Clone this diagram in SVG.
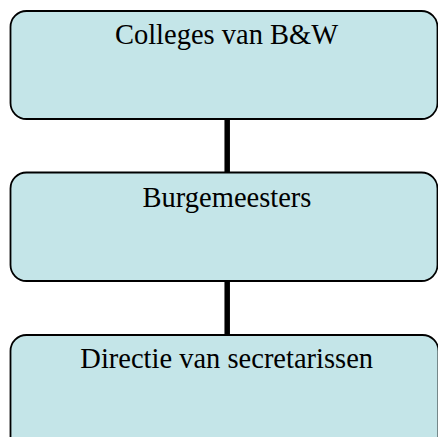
<svg xmlns="http://www.w3.org/2000/svg" width="438" height="437" viewBox="0 0 438 437">
<style>
.box{fill:#c4e5e8;stroke:#000;stroke-width:1.8}
.lbl{font-family:"Liberation Serif","Times New Roman",serif;font-size:28.5px;fill:#000;text-anchor:middle}
.conn{stroke:#000;stroke-width:5.5;fill:none}
</style>
<rect width="438" height="437" fill="#fff"/>
<g id="connectors">
<line class="conn" x1="227.2" y1="119" x2="227.2" y2="172.5"/>
<line class="conn" x1="227.2" y1="281" x2="227.2" y2="335"/>
</g>
<g id="node1">
<rect class="box" x="10.5" y="11" width="427" height="108" rx="16" ry="16"/>
<text class="lbl" x="226.5" y="44">Colleges van B&amp;W</text>
</g>
<g id="node2">
<rect class="box" x="10.5" y="172.5" width="427" height="108.5" rx="16" ry="16"/>
<text class="lbl" x="227" y="206.5">Burgemeesters</text>
</g>
<g id="node3">
<rect class="box" x="10.5" y="335" width="428" height="130" rx="16" ry="16"/>
<text class="lbl" x="226.7" y="368">Directie van secretarissen</text>
</g>
</svg>
